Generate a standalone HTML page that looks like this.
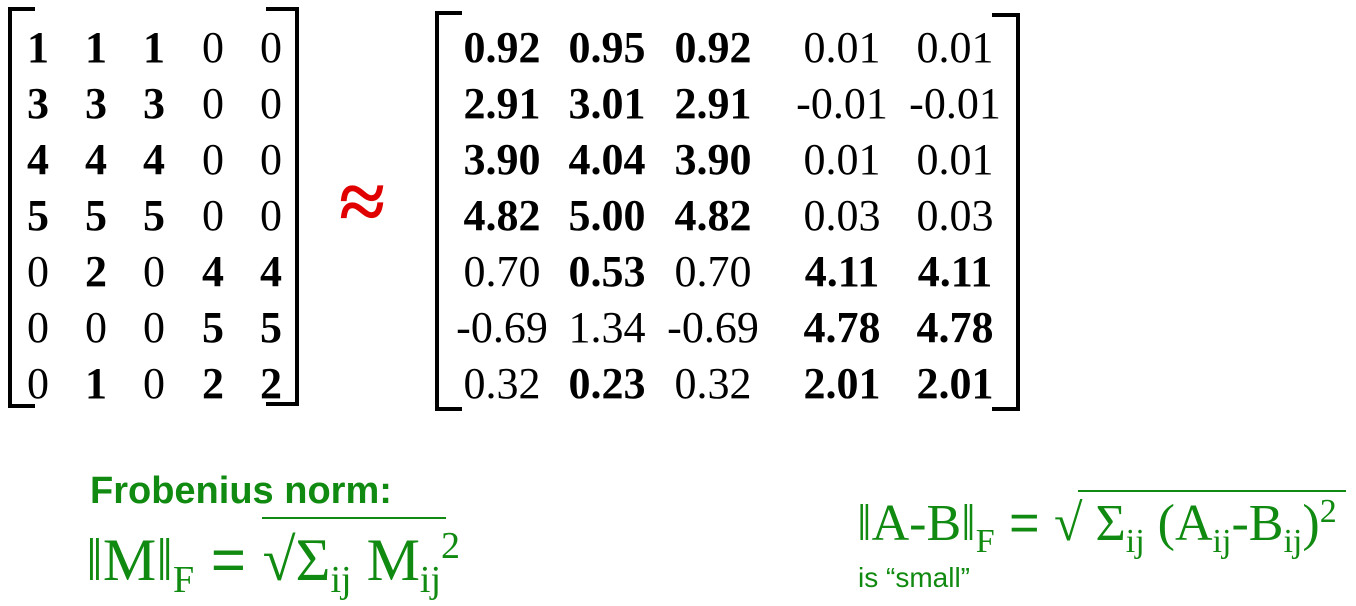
<!DOCTYPE html>
<html><head><meta charset="utf-8"><style>
html,body{margin:0;padding:0;background:#fff;}
svg{display:block;}
.m{font-family:"Liberation Serif",serif;font-size:44px;fill:#000;}
.g{fill:#108a10;}
</style></head><body>
<svg id="s" width="1356" height="606" viewBox="0 0 1356 606">
<g fill="none" stroke="#000" stroke-width="4">
<polyline points="35,9 10,9 10,406 35,406"/>
<polyline points="266,9 297,9 297,404 266,404"/>
</g>
<g fill="none" stroke="#000" stroke-width="4">
<polyline points="462,13 437,13 437,409 462,409"/>
<polyline points="992,15 1018,15 1018,409 992,409"/>
</g>
<text x="362" y="230" text-anchor="middle" font-family="Liberation Serif,serif" font-size="84" font-weight="bold" fill="#e00000">≈</text>
<g id="m1"></g>
<g id="m2"></g>
<text x="90" y="503" font-family="Liberation Sans,sans-serif" font-size="38" font-weight="bold" class="g">Frobenius norm:</text>
<text x="86" y="580" font-family="Liberation Serif,serif" font-size="60" class="g">‖M‖<tspan font-size="38" dy="12">F</tspan><tspan dy="-12" font-family="Liberation Sans,sans-serif"> = </tspan>√Σ<tspan font-size="38" dy="12">ij</tspan><tspan dy="-12"> M</tspan><tspan font-size="38" dy="12">ij</tspan><tspan font-size="38" dy="-34">2</tspan></text>
<line x1="262" y1="518" x2="446" y2="518" stroke="#108a10" stroke-width="2"/>
<text x="857" y="540" font-family="Liberation Serif,serif" font-size="52" class="g">‖A-B‖<tspan font-size="34" dy="12">F</tspan><tspan dy="-12" font-family="Liberation Sans,sans-serif"> = </tspan>√ Σ<tspan font-size="34" dy="12">ij</tspan><tspan dy="-12"> (A</tspan><tspan font-size="34" dy="12">ij</tspan><tspan dy="-12">-B</tspan><tspan font-size="34" dy="12">ij</tspan><tspan dy="-12">)</tspan><tspan font-size="34" dy="-18">2</tspan></text>
<line x1="1078" y1="491" x2="1346" y2="491" stroke="#108a10" stroke-width="2"/>
<text x="858" y="587" font-family="Liberation Sans,sans-serif" font-size="28" class="g">is “small”</text>
</svg>
<script>
const A = [[1,1,1,0,0],[3,3,3,0,0],[4,4,4,0,0],[5,5,5,0,0],[0,2,0,4,4],[0,0,0,5,5],[0,1,0,2,2]];
const B = [["0.92","0.95","0.92","0.01","0.01"],["2.91","3.01","2.91","-0.01","-0.01"],["3.90","4.04","3.90","0.01","0.01"],["4.82","5.00","4.82","0.03","0.03"],["0.70","0.53","0.70","4.11","4.11"],["-0.69","1.34","-0.69","4.78","4.78"],["0.32","0.23","0.32","2.01","2.01"]];
const boldB = [[1,1,1,0,0],[1,1,1,0,0],[1,1,1,0,0],[1,1,1,0,0],[0,1,0,1,1],[0,0,0,1,1],[0,1,0,1,1]];
const ns='http://www.w3.org/2000/svg';
const cx1=[38,96,154,213,271], cx2=[502,607,713,842,955];
function rowY(i){return 62+i*56;}
const g1=document.getElementById('m1'), g2=document.getElementById('m2');
A.forEach((r,i)=>r.forEach((v,j)=>{
  const t=document.createElementNS(ns,'text');
  t.setAttribute('x',cx1[j]);t.setAttribute('y',rowY(i));
  t.setAttribute('text-anchor','middle');t.setAttribute('class','m');
  if(v!==0)t.setAttribute('font-weight','bold');
  t.textContent=v;
  
  
  g1.appendChild(t);
}));
B.forEach((r,i)=>r.forEach((v,j)=>{
  const t=document.createElementNS(ns,'text');
  t.setAttribute('x',cx2[j]);t.setAttribute('y',rowY(i));
  t.setAttribute('text-anchor','middle');t.setAttribute('class','m');
  if(boldB[i][j])t.setAttribute('font-weight','bold');
  t.textContent=v;
  
  
  g2.appendChild(t);
}));
</script>
</body></html>
